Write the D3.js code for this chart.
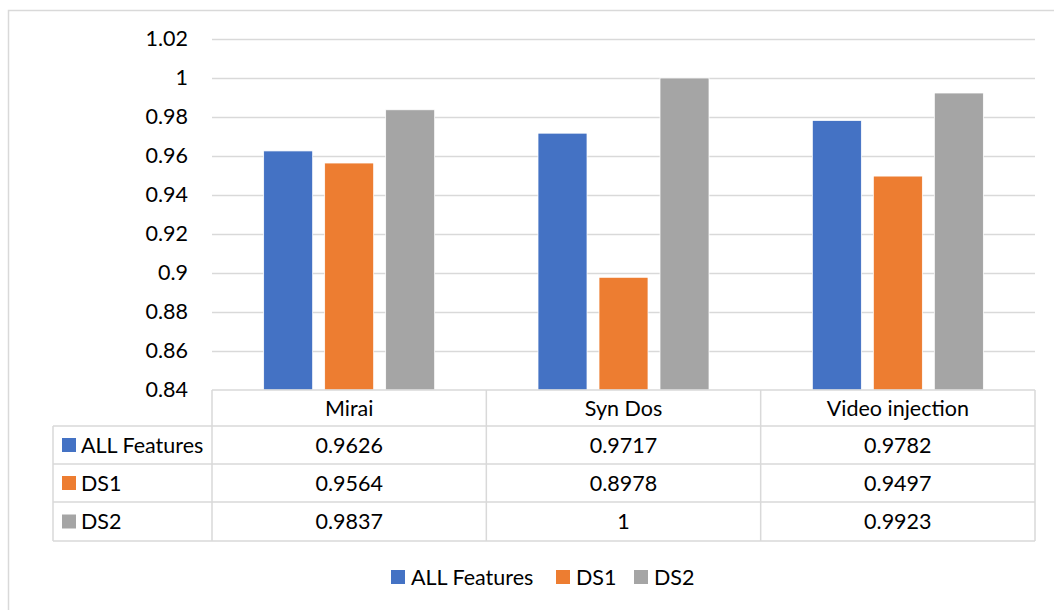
<!DOCTYPE html>
<html>
<head>
<meta charset="utf-8">
<script src="https://cdn.jsdelivr.net/npm/d3@7"></script>
<style>
  html, body { margin: 0; padding: 0; background: #fff; }
  svg text { font-family: Lato, "Open Sans", sans-serif; fill: #000; }
</style>
</head>
<body>
<svg id="chart" width="1054" height="610"></svg>
<script>
// Attack categories and the three feature sets compared
const categories = ["Mirai", "Syn Dos", "Video injection"];
const seriesNames = ["ALL Features", "DS1", "DS2"];
const allFeatures = [0.9626, 0.9717, 0.9782];
const ds1 = [0.9564, 0.8978, 0.9497];
const ds2 = [0.9837, 1, 0.9923];
const seriesColors = ["#4472C4", "#ED7D31", "#A5A5A5"];
const yTicks = [0.84, 0.86, 0.88, 0.9, 0.92, 0.94, 0.96, 0.98, 1, 1.02];
const tableLabels = [["0.9626", "0.9717", "0.9782"], ["0.9564", "0.8978", "0.9497"], ["0.9837", "1", "0.9923"]];

const series = [allFeatures, ds1, ds2];

const svg = d3.select("#chart");
const gridColor = "#D9D9D9";
const fontSize = 21.5;

// outer chart frame
svg.append("rect")
  .attr("x", 8.5).attr("y", 10.5)
  .attr("width", 1060).attr("height", 620)
  .attr("fill", "none").attr("stroke", gridColor).attr("stroke-width", 1.5);

const plot = { left: 212, right: 1035, top: 39, bottom: 390 };

const x = d3.scaleBand().domain(categories).range([plot.left, plot.right]);
const y = d3.scaleLinear().domain([0.84, 1.02]).range([plot.bottom, plot.top]);

// bars within each category: 49px wide with 12px gaps
const barW = 49, barStep = 61;
const inner = d3.scaleBand().domain(seriesNames)
  .range([-(barStep * 3 - (barStep - barW)) / 2, (barStep * 3 - (barStep - barW)) / 2])
  .paddingInner((barStep - barW) / barStep);

// gridlines
svg.append("g").selectAll("line").data(yTicks.slice(1)).join("line")
  .attr("x1", plot.left).attr("x2", plot.right)
  .attr("y1", d => Math.round(y(d)) + 0.5).attr("y2", d => Math.round(y(d)) + 0.5)
  .attr("stroke", gridColor).attr("stroke-width", 1.5);

// y axis labels
const yAxis = d3.axisLeft(y).tickValues(yTicks).tickSize(0).tickPadding(24)
  .tickFormat(d => String(+d.toFixed(2)));
const ya = svg.append("g").attr("transform", `translate(${plot.left},0)`).call(yAxis);
ya.select(".domain").remove();
ya.selectAll("text").style("font-size", fontSize + "px").attr("font-family", null).attr("fill", "#000");

// bars
categories.forEach((cat, ci) => {
  const cx = x(cat) + x.bandwidth() / 2;
  seriesNames.forEach((name, si) => {
    const v = series[si][ci];
    svg.append("rect")
      .attr("x", cx + inner(name))
      .attr("y", y(v))
      .attr("width", inner.bandwidth())
      .attr("height", y(0.84) - y(v))
      .attr("fill", seriesColors[si])
      .attr("stroke", "#fff").attr("stroke-width", 0.75);
  });
});

// data table below the plot
const rowY = [390, 426, 464, 502, 541];
const tableLeft = 53;
const tbl = svg.append("g").attr("stroke", gridColor).attr("stroke-width", 1.5).attr("fill", "none");
// horizontal lines
tbl.append("line").attr("x1", plot.left).attr("x2", plot.right).attr("y1", rowY[0]).attr("y2", rowY[0]);
rowY.slice(1).forEach(ry => {
  tbl.append("line").attr("x1", tableLeft).attr("x2", plot.right).attr("y1", ry).attr("y2", ry);
});
// vertical lines
tbl.append("line").attr("x1", tableLeft).attr("x2", tableLeft).attr("y1", rowY[1]).attr("y2", rowY[4]);
categories.forEach(cat => {
  tbl.append("line").attr("x1", x(cat)).attr("x2", x(cat)).attr("y1", rowY[0]).attr("y2", rowY[4]);
});
tbl.append("line").attr("x1", plot.right).attr("x2", plot.right).attr("y1", rowY[0]).attr("y2", rowY[4]);

// header row
categories.forEach(cat => {
  svg.append("text")
    .attr("x", x(cat) + x.bandwidth() / 2)
    .attr("y", (rowY[0] + rowY[1]) / 2)
    .attr("dy", "0.35em").attr("text-anchor", "middle")
    .style("font-size", fontSize + "px").text(cat);
});

// series rows
seriesNames.forEach((name, si) => {
  const cy = (rowY[si + 1] + rowY[si + 2]) / 2;
  svg.append("rect").attr("x", 62).attr("y", cy - 7).attr("width", 14).attr("height", 14)
    .attr("fill", seriesColors[si]);
  svg.append("text").attr("x", 81).attr("y", cy).attr("dy", "0.35em")
    .style("font-size", fontSize + "px").text(name);
  categories.forEach((cat, ci) => {
    svg.append("text")
      .attr("x", x(cat) + x.bandwidth() / 2)
      .attr("y", cy).attr("dy", "0.35em").attr("text-anchor", "middle")
      .style("font-size", fontSize + "px").text(tableLabels[si][ci]);
  });
});

// legend
const legendX = [391, 556, 634];
const legend = svg.append("g");
seriesNames.forEach((name, si) => {
  legend.append("rect").attr("x", legendX[si]).attr("y", 577 - 7).attr("width", 14).attr("height", 14)
    .attr("fill", seriesColors[si]);
  legend.append("text").attr("x", legendX[si] + 20).attr("y", 577).attr("dy", "0.35em")
    .style("font-size", fontSize + "px").text(name);
});
</script>
</body>
</html>
